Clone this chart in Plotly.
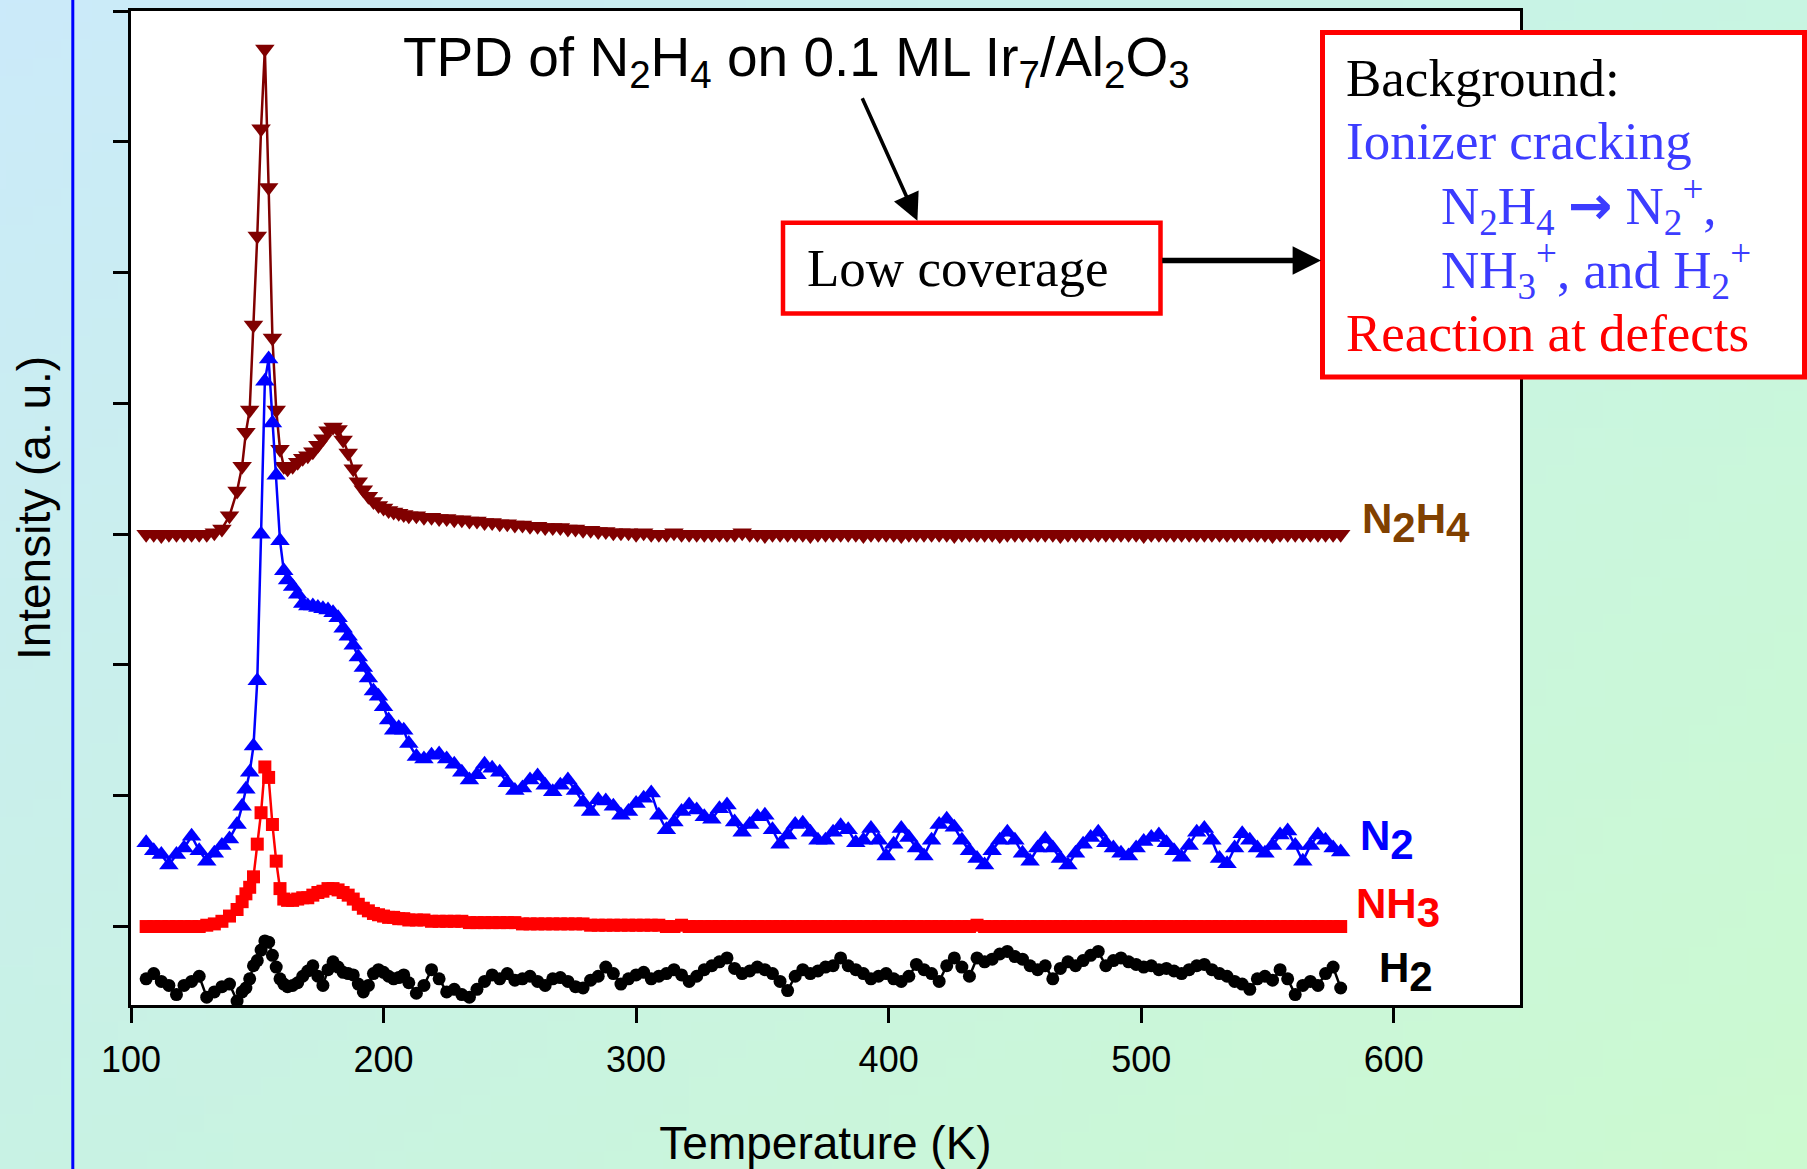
import base64
import struct
import zlib
import plotly.graph_objects as go

# ---------------- data ----------------
T_SEG1 = [106, 109, 112, 115, 118, 121, 124, 127, 130, 133, 136, 139, 142]
T_SEG2 = [144, 145.5, 147, 148.5, 150, 151.5, 153, 154.5, 156, 157.5, 159, 160.5]
T_SEG3 = list(range(162, 211, 2))
T_SEG4 = list(range(213, 580, 3))
temperature = T_SEG1 + T_SEG2 + T_SEG3 + T_SEG4

n2h4 = (
    [3.00, 3.00, 2.99, 3.00, 3.00, 3.00, 3.00, 3.00, 3.00, 3.01, 3.04, 3.14, 3.33]
    + [3.52, 3.78, 3.95, 4.60, 5.28, 6.10, 6.71, 5.65, 4.50, 3.95, 3.65, 3.52]
    + [3.50, 3.52, 3.55, 3.58, 3.60, 3.63, 3.68, 3.73, 3.79, 3.82,
       3.80, 3.72, 3.62, 3.50, 3.40, 3.34, 3.29, 3.25, 3.22, 3.20,
       3.18, 3.17, 3.16, 3.15, 3.14]
    + [3.14, 3.13, 3.13, 3.12, 3.12, 3.11, 3.11, 3.10, 3.10, 3.09,
       3.09, 3.08, 3.08, 3.07, 3.07, 3.06, 3.06, 3.05, 3.05, 3.05,
       3.04, 3.04, 3.03, 3.03, 3.02, 3.02, 3.01, 3.01, 3.01, 3.00,
       3.01, 3.00, 3.00, 3.00, 3.01, 3.00, 3.00, 3.00, 3.00, 3.00,
       3.00, 3.00, 3.00, 3.01, 3.00, 3.00, 2.99, 3.00, 3.00, 3.00,
       3.00, 3.00, 2.99, 3.00, 3.00, 3.00, 3.00, 3.00, 3.00, 2.99,
       3.00, 3.00, 3.00, 3.00, 2.99, 3.00, 3.00, 3.00, 3.00, 3.00,
       3.00, 2.99, 3.00, 3.00, 3.00, 3.00, 3.00, 2.99, 3.00, 3.00,
       3.00, 3.00, 3.00, 3.00, 3.00, 2.99, 3.00, 3.00, 3.00, 3.00,
       3.00, 3.00, 3.00, 3.00, 3.00, 3.00, 2.99, 3.00, 3.00, 3.00,
       3.00, 3.00, 3.00, 3.00, 3.00, 3.00, 3.00, 3.00, 3.00, 3.00,
       3.00, 3.00, 3.00, 2.99, 3.00, 3.00, 3.00, 3.00, 3.00, 3.00,
       3.00, 3.00, 3.00]
)

n2 = (
    [0.64, 0.58, 0.55, 0.47, 0.55, 0.60, 0.69, 0.58, 0.50, 0.56, 0.62, 0.67, 0.78]
    + [0.92, 1.05, 1.18, 1.38, 1.88, 3.00, 4.17, 4.34, 3.85, 3.45, 2.95, 2.72]
    + [2.65, 2.60, 2.54, 2.47, 2.45, 2.45, 2.44, 2.43, 2.42, 2.40,
       2.36, 2.28, 2.22, 2.15, 2.06, 1.98, 1.90, 1.80, 1.76, 1.68,
       1.58, 1.50, 1.52, 1.50, 1.40]
    + [1.30, 1.28, 1.31, 1.32, 1.28, 1.24, 1.18, 1.12, 1.16, 1.24,
       1.21, 1.18, 1.10, 1.04, 1.06, 1.12, 1.15, 1.08, 1.03, 1.08,
       1.12, 1.04, 0.95, 0.88, 0.97, 0.96, 0.92, 0.85, 0.88, 0.94,
       0.98, 1.02, 0.85, 0.74, 0.80, 0.88, 0.93, 0.89, 0.84, 0.82,
       0.90, 0.93, 0.80, 0.72, 0.78, 0.84, 0.85, 0.74, 0.63, 0.70,
       0.78, 0.79, 0.72, 0.66, 0.66, 0.72, 0.77, 0.74, 0.64, 0.66,
       0.75, 0.66, 0.54, 0.63, 0.75, 0.68, 0.60, 0.54, 0.66, 0.78,
       0.82, 0.76, 0.66, 0.58, 0.52, 0.47, 0.58, 0.66, 0.72, 0.66,
       0.56, 0.50, 0.60, 0.67, 0.60, 0.52, 0.47, 0.56, 0.63, 0.68,
       0.72, 0.64, 0.60, 0.56, 0.54, 0.60, 0.65, 0.68, 0.70, 0.64,
       0.58, 0.53, 0.62, 0.72, 0.75, 0.66, 0.52, 0.48, 0.60, 0.71,
       0.66, 0.60, 0.56, 0.62, 0.70, 0.73, 0.62, 0.50, 0.62, 0.70,
       0.66, 0.60, 0.57]
)

nh3 = (
    [0.00, 0.00, 0.00, 0.00, 0.00, 0.00, 0.00, 0.00, 0.01, 0.02, 0.04, 0.08, 0.13]
    + [0.19, 0.25, 0.30, 0.38, 0.63, 0.87, 1.22, 1.14, 0.78, 0.50, 0.29, 0.21]
    + [0.20, 0.20, 0.21, 0.22, 0.22, 0.24, 0.26, 0.27, 0.29, 0.29,
       0.28, 0.26, 0.24, 0.21, 0.17, 0.14, 0.12, 0.10, 0.09, 0.08,
       0.07, 0.07, 0.06, 0.06, 0.05]
    + [0.05, 0.05, 0.04, 0.04, 0.04, 0.04, 0.04, 0.03, 0.03, 0.03,
       0.03, 0.03, 0.03, 0.03, 0.02, 0.02, 0.02, 0.02, 0.02, 0.02,
       0.02, 0.02, 0.02, 0.01, 0.01, 0.01, 0.01, 0.01, 0.01, 0.01,
       0.01, 0.01, 0.01, 0.00, 0.00, 0.01, 0.00, 0.00, 0.00, 0.00,
       0.00, 0.00, 0.00, 0.00, 0.00, 0.00, 0.00, 0.00, 0.00, 0.00,
       0.00, 0.00, 0.00, 0.00, 0.00, 0.00, 0.00, 0.00, 0.00, 0.00,
       0.00, 0.00, 0.00, 0.00, 0.00, 0.00, 0.00, 0.00, 0.00, 0.00,
       0.00, 0.00, 0.00, 0.00, 0.01, 0.00, 0.00, 0.00, 0.00, 0.00,
       0.00, 0.00, 0.00, 0.00, 0.00, 0.00, 0.00, 0.00, 0.00, 0.00,
       0.00, 0.00, 0.00, 0.00, 0.00, 0.00, 0.00, 0.00, 0.00, 0.00,
       0.00, 0.00, 0.00, 0.00, 0.00, 0.00, 0.00, 0.00, 0.00, 0.00,
       0.00, 0.00, 0.00, 0.00, 0.00, 0.00, 0.00, 0.00, 0.00, 0.00,
       0.00, 0.00, 0.00]
)

h2 = (
    [-0.40, -0.36, -0.42, -0.45, -0.52, -0.45, -0.42, -0.38, -0.54, -0.50, -0.46, -0.44, -0.57]
    + [-0.50, -0.47, -0.40, -0.30, -0.26, -0.18, -0.11, -0.12, -0.22, -0.31, -0.40, -0.44]
    + [-0.46, -0.45, -0.43, -0.38, -0.34, -0.30, -0.38, -0.45, -0.33, -0.27,
       -0.31, -0.35, -0.36, -0.37, -0.44, -0.50, -0.45, -0.36, -0.33, -0.35,
       -0.38, -0.40, -0.39, -0.37, -0.43]
    + [-0.51, -0.45, -0.33, -0.40, -0.50, -0.48, -0.52, -0.54, -0.48, -0.42,
       -0.37, -0.40, -0.36, -0.41, -0.40, -0.38, -0.42, -0.45, -0.40, -0.39,
       -0.42, -0.46, -0.47, -0.41, -0.38, -0.31, -0.36, -0.44, -0.40, -0.37,
       -0.35, -0.40, -0.38, -0.36, -0.33, -0.37, -0.42, -0.38, -0.33, -0.30,
       -0.27, -0.24, -0.32, -0.36, -0.34, -0.31, -0.33, -0.36, -0.42, -0.49,
       -0.38, -0.33, -0.36, -0.34, -0.31, -0.30, -0.24, -0.30, -0.33, -0.36,
       -0.40, -0.38, -0.36, -0.40, -0.42, -0.38, -0.29, -0.33, -0.36, -0.42,
       -0.30, -0.24, -0.31, -0.38, -0.24, -0.27, -0.25, -0.21, -0.19, -0.23,
       -0.25, -0.30, -0.33, -0.30, -0.40, -0.32, -0.27, -0.30, -0.26, -0.22,
       -0.19, -0.30, -0.26, -0.24, -0.27, -0.29, -0.31, -0.30, -0.33, -0.32,
       -0.34, -0.36, -0.33, -0.30, -0.29, -0.33, -0.36, -0.38, -0.42, -0.44,
       -0.48, -0.40, -0.38, -0.41, -0.33, -0.40, -0.52, -0.45, -0.42, -0.45,
       -0.36, -0.31, -0.47]
)

x_ticks = [100, 200, 300, 400, 500, 600]
y_ticks = [0, 1, 2, 3, 4, 5, 6, 7]

# ---------------- geometry helpers ----------------
W, H = 1807, 1169
ML, MR, MT, MB = 131, 287, 8, 164
PX0, PX1 = ML, W - MR
PY0, PY1 = MT, H - MB


def px(x):
    return (x - PX0) / (PX1 - PX0)


def py(y):
    return (PY1 - y) / (PY1 - PY0)


def gradient_png(w, h, tl, tr, bl, br):
    rows = []
    for j in range(h):
        v = j / (h - 1)
        row = bytearray([0])
        for i in range(w):
            u = i / (w - 1)
            for c in range(3):
                val = (tl[c] * (1 - u) * (1 - v) + tr[c] * u * (1 - v)
                       + bl[c] * (1 - u) * v + br[c] * u * v)
                row.append(int(round(val)))
        rows.append(bytes(row))
    raw = b"".join(rows)

    def chunk(t, d):
        c = struct.pack(">I", len(d)) + t + d
        return c + struct.pack(">I", zlib.crc32(t + d) & 0xffffffff)

    png = (b"\x89PNG\r\n\x1a\n"
           + chunk(b"IHDR", struct.pack(">IIBBBBB", w, h, 8, 2, 0, 0, 0))
           + chunk(b"IDAT", zlib.compress(raw))
           + chunk(b"IEND", b""))
    return "data:image/png;base64," + base64.b64encode(png).decode()


bg = gradient_png(64, 64, (203, 234, 250), (200, 245, 226), (200, 242, 228), (204, 250, 208))

SANS = "Liberation Sans"
SERIF = "Liberation Serif"

fig = go.Figure()

series = [
    ("N2H4", n2h4, "#800000", "triangle-down", 17),
    ("N2", n2, "#0000ff", "triangle-up", 17),
    ("NH3", nh3, "#ff0000", "square", 13),
    ("H2", h2, "#000000", "circle", 13),
]
for name, vals, col, sym, size in series:
    fig.add_trace(go.Scatter(
        x=temperature, y=vals, mode="lines+markers", name=name,
        line=dict(color=col, width=2.5),
        marker=dict(symbol=sym, size=size, color=col, line=dict(width=0)),
        showlegend=False, hoverinfo="skip",
    ))


def sub(s, size):
    return f'<sub><span style="font-size:{size}px">{s}</span></sub>'


annotations = []

# title
annotations.append(dict(
    text="TPD of N<sub>2</sub>H<sub>4</sub> on 0.1 ML Ir<sub>7</sub>/Al<sub>2</sub>O<sub>3</sub>",
    x=px(796.5), y=py(58), xref="paper", yref="paper", xanchor="center", yanchor="middle",
    showarrow=False, font=dict(family=SANS, size=55, color="black")))

# low coverage
annotations.append(dict(
    text="Low coverage", x=px(805), y=py(265.5), xref="paper", yref="paper",
    xanchor="left", yanchor="middle", showarrow=False,
    font=dict(family=SERIF, size=53, color="black")))

ARROW = '<span style="font-family:DejaVu Sans;font-weight:bold">\u2192</span>'
box_lines = [
    ("Background:", 1344, 75.5, "black"),
    ("Ionizer cracking", 1344, 138.5, "#3c3cff"),
    ("N<sub>2</sub>H<sub>4</sub> " + ARROW + " N<sub>2</sub><sup>+</sup>,", 1439, 203.5, "#3c3cff"),
    ("NH<sub>3</sub><sup>+</sup>, and H<sub>2</sub><sup>+</sup>", 1439, 267.5, "#3c3cff"),
    ("Reaction at defects", 1344, 330.5, "#ff0000"),
]
for txt, x0, ym, col in box_lines:
    annotations.append(dict(
        text=txt, x=px(x0), y=py(ym), xref="paper", yref="paper",
        xanchor="left", yanchor="middle", showarrow=False,
        font=dict(family=SERIF, size=53, color=col)))

# series labels
labels = [
    ("N" + sub("2", 42) + "H" + sub("4", 42), 1360, 522, "#804000"),
    ("N" + sub("2", 42), 1358, 840, "#0000ff"),
    ("NH" + sub("3", 42), 1354, 908, "#ff0000"),
    ("H" + sub("2", 42), 1377, 972, "#000000"),
]
for txt, x0, ym, col in labels:
    annotations.append(dict(
        text=txt, x=px(x0), y=py(ym), xref="paper", yref="paper",
        xanchor="left", yanchor="middle", showarrow=False,
        font=dict(family=SANS, size=42, color=col, weight="bold")))

# arrows
annotations.append(dict(
    text="", x=px(917.4), y=py(218.3), xref="paper", yref="paper",
    ax=861.6 - 917.4, ay=94.3 - 218.3, axref="pixel", ayref="pixel",
    showarrow=True, arrowhead=2, arrowsize=1.5, arrowwidth=3.6, arrowcolor="black",
    standoff=0, startstandoff=0))
annotations.append(dict(
    text="", x=px(1321), y=py(258.3), xref="paper", yref="paper",
    ax=1160.7 - 1321, ay=0, axref="pixel", ayref="pixel",
    showarrow=True, arrowhead=2, arrowsize=1.05, arrowwidth=5.4, arrowcolor="black",
    standoff=0, startstandoff=0))

shapes = [
    # white plot area (covers the gradient image)
    dict(type="rect", xref="x domain", yref="y domain", x0=0, x1=1, y0=0, y1=1,
         fillcolor="white", line=dict(width=0), layer="below"),
    # vertical blue line at the left
    dict(type="line", xref="paper", yref="paper", x0=px(72.8), x1=px(72.8),
         y0=py(-5), y1=py(H + 5), line=dict(color="#0000ff", width=3), layer="above"),
    # low coverage box
    dict(type="rect", xref="paper", yref="paper", x0=px(783), x1=px(1160.5),
         y0=py(220.5), y1=py(311.5), line=dict(color="#ff0000", width=4.5),
         fillcolor="white", layer="above"),
    # background box
    dict(type="rect", xref="paper", yref="paper", x0=px(1322.5), x1=px(1804.5),
         y0=py(29.5), y1=py(375), line=dict(color="#ff0000", width=5),
         fillcolor="white", layer="above"),
]

fig.update_layout(
    width=W, height=H,
    margin=dict(l=ML, r=MR, t=MT, b=MB, pad=0),
    paper_bgcolor="#c9f0e0",
    plot_bgcolor="white",
    showlegend=False,
    annotations=annotations,
    shapes=shapes,
    images=[dict(source=bg, xref="paper", yref="paper", x=px(-10), y=py(-10),
                 sizex=px(W + 10) - px(-10), sizey=py(-10) - py(H + 10), sizing="stretch",
                 xanchor="left", yanchor="top", layer="below")],
    xaxis=dict(
        range=[100, 650], tickvals=x_ticks, ticktext=[str(t) for t in x_ticks],
        ticks="outside", ticklen=15, tickwidth=2.5, tickcolor="black",
        showline=True, linewidth=3, linecolor="black", mirror=True,
        showgrid=False, zeroline=False, ticklabelstandoff=6,
        tickfont=dict(family=SANS, size=36, color="black"),
        title=dict(text="Temperature (K)", font=dict(family=SANS, size=46, color="black"),
                   standoff=49),
    ),
    yaxis=dict(
        range=[-0.6, 7], tickvals=y_ticks, showticklabels=False,
        ticks="outside", ticklen=15, tickwidth=2.5, tickcolor="black",
        showline=True, linewidth=3, linecolor="black", mirror=True,
        showgrid=False, zeroline=False,
        title=dict(text="Intensity (a. u.)", font=dict(family=SANS, size=46, color="black"),
                   standoff=48),
    ),
)

fig.write_html(
    "out.html",
    config={"displayModeBar": False},
    post_script="document.body.style.margin='0px';document.body.style.overflow='hidden';",
)
